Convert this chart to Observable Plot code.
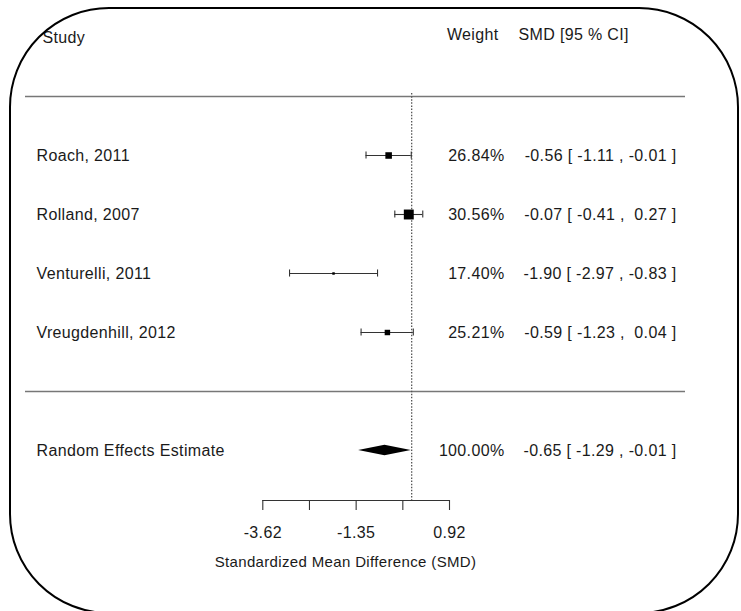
<!DOCTYPE html>
<html><head><meta charset="utf-8">
<script src="https://cdn.jsdelivr.net/npm/d3@7"></script>
<script src="https://cdn.jsdelivr.net/npm/@observablehq/plot@0.6"></script>
<style>
html,body{margin:0;padding:0;background:#fff;overflow:hidden;}
#wrap{position:relative;width:741px;height:611px;overflow:hidden;background:#fff;}
#wrap svg text{white-space:pre;}
#border{position:absolute;left:9px;top:7px;width:726px;height:603px;border:2px solid #000;border-radius:100px;pointer-events:none;}
</style></head><body><div id="wrap"><div id="border"></div></div>
<script>
// ---- data ----
const studies = ["Roach, 2011", "Rolland, 2007", "Venturelli, 2011", "Vreugdenhill, 2012"];
const weights = [26.84, 30.56, 17.40, 25.21];
const smd = [-0.56, -0.07, -1.90, -0.59];
const ciLow = [-1.11, -0.41, -2.97, -1.23];
const ciHigh = [-0.01, 0.27, -0.83, 0.04];
const summaryLabel = "Random Effects Estimate";
const summaryWeight = 100.00;
const summarySmd = -0.65;
const summaryLow = -1.29;
const summaryHigh = -0.01;
const headers = ["Study", "Weight", "SMD [95 % CI]"];
const xTicks = [-3.62, -2.485, -1.35, -0.215, 0.92];
const xTickLabels = ["-3.62", "", "-1.35", "", "0.92"];
const xLabel = "Standardized Mean Difference (SMD)";

// ---- layout (rows) ----
const HEADER_ROW = -2, TOP_RULE = -1, SEP_RULE = 4, SUMMARY_ROW = 5;
const AXIS_ROW = 5.847;
const CAP = 0.06, DIAMOND_H = 0.09;

const f = v => (v < 0 ? "" : " ") + v.toFixed(2);
const rows = studies.map((s, i) => ({
  row: i, study: s, weight: weights[i], smd: smd[i], lo: ciLow[i], hi: ciHigh[i],
  wLabel: weights[i].toFixed(2) + "%",
  ciLabel: `${f(smd[i])} [ ${f(ciLow[i])} , ${f(ciHigh[i])} ]`
}));
const summary = [{
  row: SUMMARY_ROW, study: summaryLabel,
  wLabel: summaryWeight.toFixed(2) + "%",
  ciLabel: `${f(summarySmd)} [ ${f(summaryLow)} , ${f(summaryHigh)} ]`
}];
const diamond = [
  {y: SUMMARY_ROW - DIAMOND_H, x1: summarySmd, x2: summarySmd},
  {y: SUMMARY_ROW, x1: summaryLow, x2: summaryHigh},
  {y: SUMMARY_ROW + DIAMOND_H, x1: summarySmd, x2: summarySmd}
];
const tableRows = rows.concat(summary);
const textColor = "#1a1a1a";

const chart = Plot.plot({
  width: 741, height: 611,
  marginLeft: 25, marginRight: 56, marginTop: 0, marginBottom: 111,
  style: {fontFamily: "'Liberation Sans', Arial, sans-serif", fontSize: "16px", letterSpacing: "0.35px", color: textColor, background: "transparent"},
  x: {domain: [xTicks[0], xTicks[xTicks.length - 1]], range: [262.3, 449], axis: null},
  y: {domain: [HEADER_ROW, SUMMARY_ROW], range: [37, 450], axis: null},
  r: {type: "pow", exponent: 4, domain: d3.extent(weights), range: [1.4, 5.6]},
  marks: [
    // separators
    Plot.ruleY([TOP_RULE, SEP_RULE], {stroke: "#777", strokeWidth: 1.5}),
    // null-effect line
    Plot.ruleX([0], {y1: -1.05, y2: AXIS_ROW, stroke: "#555", strokeDasharray: "1.5,1.6", strokeWidth: 1.3}),
    // CIs
    Plot.ruleY(rows, {y: "row", x1: "lo", x2: "hi", stroke: "#333", strokeWidth: 1.1}),
    Plot.ruleX(rows, {x: "lo", y1: d => d.row - CAP, y2: d => d.row + CAP, stroke: "#333", strokeWidth: 1.1}),
    Plot.ruleX(rows, {x: "hi", y1: d => d.row - CAP, y2: d => d.row + CAP, stroke: "#333", strokeWidth: 1.1}),
    Plot.dot(rows, {x: "smd", y: "row", r: "weight", symbol: "square", fill: "black", stroke: null}),
    // summary diamond
    Plot.areaX(diamond, {y: "y", x1: "x1", x2: "x2", fill: "black"}),
    // axis
    Plot.ruleY([AXIS_ROW], {x1: xTicks[0], x2: xTicks[xTicks.length - 1], stroke: "#333", strokeWidth: 1.1}),
    Plot.axisX({ticks: xTicks, tickFormat: (d, i) => xTickLabels[i], tickSize: 10, tickPadding: 16, fontSize: 16, stroke: "#333", strokeWidth: 1.1, fill: textColor}),
    Plot.text([xLabel], {frameAnchor: "bottom", dx: -10, dy: 66, lineAnchor: "bottom", fontSize: 15, fill: textColor}),
    // headers
    Plot.text([headers[0]], {y: [HEADER_ROW], frameAnchor: "left", textAnchor: "start", dx: 17, fill: textColor}),
    Plot.text([headers[1]], {y: [HEADER_ROW], frameAnchor: "right", textAnchor: "end", dx: -187, dy: -3, fill: textColor}),
    Plot.text([headers[2]], {y: [HEADER_ROW], frameAnchor: "right", textAnchor: "start", dx: -167, dy: -3, fill: textColor}),
    // table columns
    Plot.text(tableRows, {y: "row", text: "study", frameAnchor: "left", textAnchor: "start", dx: 11, fill: textColor}),
    Plot.text(tableRows, {y: "row", text: "wLabel", frameAnchor: "right", textAnchor: "end", dx: -181, fill: textColor}),
    Plot.text(tableRows, {y: "row", text: "ciLabel", frameAnchor: "right", textAnchor: "end", dx: -9, fill: textColor})
  ]
});
const wrap = document.getElementById("wrap");
wrap.insertBefore(chart, wrap.firstChild);
</script>
</body></html>
